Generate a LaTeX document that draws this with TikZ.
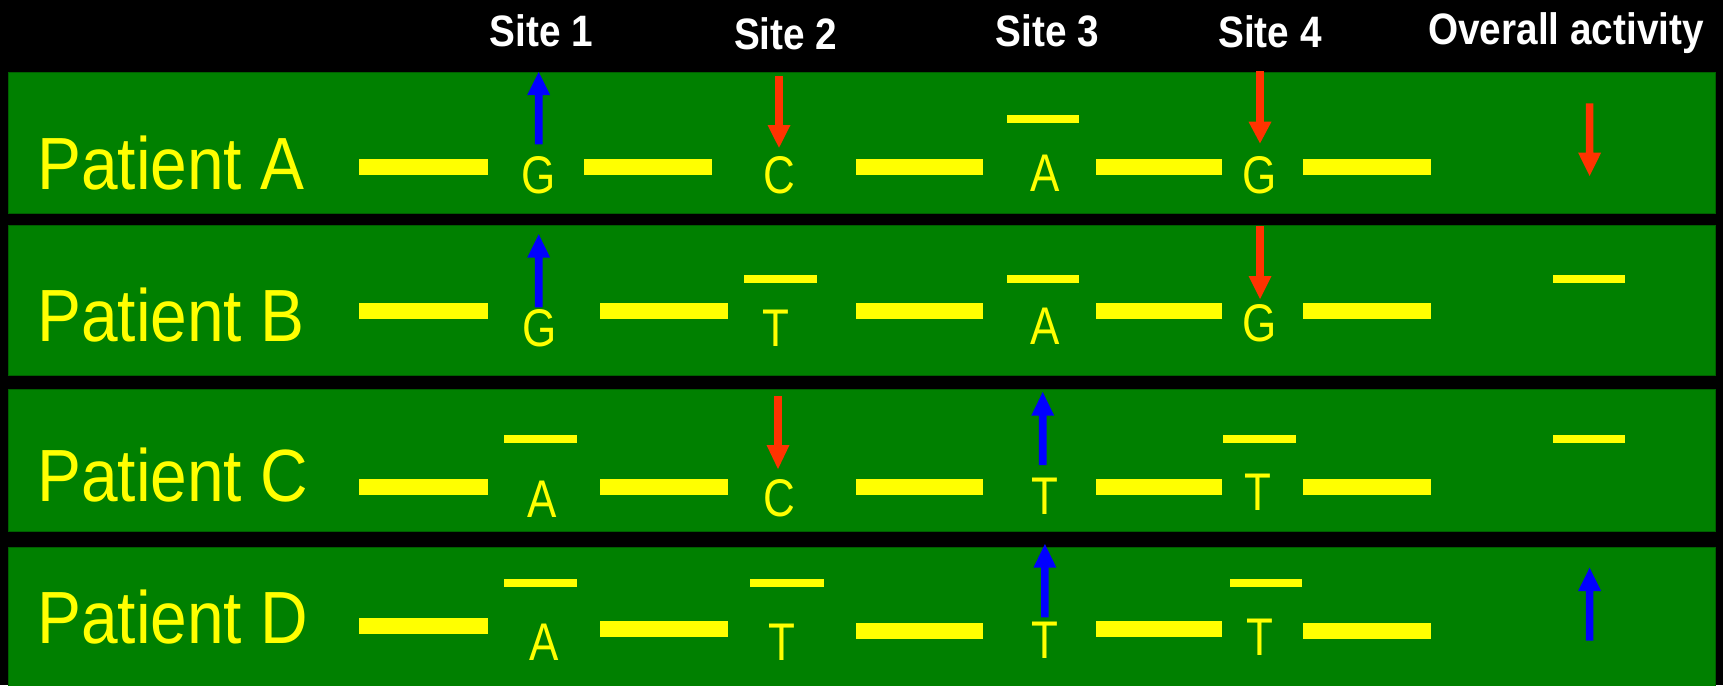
\documentclass[tikz,border=0pt]{standalone}
\usepackage{fontspec}
\setmainfont{Liberation Sans}
\newfontfamily\patientfont[FakeStretch=0.89]{Liberation Sans}
\newfontfamily\basefont[FakeStretch=0.83]{Liberation Sans}
\newfontfamily\headfont[FakeStretch=0.88]{Liberation Sans}
\usetikzlibrary{arrows.meta}

\definecolor{band}{RGB}{0,128,0}
\definecolor{bandedge}{RGB}{0,96,0}
\definecolor{dna}{RGB}{255,255,0}
\definecolor{upblue}{RGB}{0,0,255}
\definecolor{downred}{RGB}{255,51,0}

% vertical mutation arrow: colour, x, tail y, head-base y, tip y
\newcommand\mutarrow[5]{%
  \fill[#1] ({#2-3.8},#3) -- ({#2-3.8},#4) -- ({#2-11.5},#4) -- (#2,#5)
    -- ({#2+11.5},#4) -- ({#2+3.8},#4) -- ({#2+3.8},#3) -- cycle;}
% backbone segment: x from, x to, centre y (16 units thick)
\newcommand\seg[3]{\fill[dna] (#1,{#3-8}) rectangle (#2,{#3+8});}
% overbar above a base: x from, x to, top y
\newcommand\obar[3]{\fill[dna] (#1,#3) rectangle (#2,{#3+8.3});}

\begin{document}
\begin{tikzpicture}[x=1pt,y=-1pt,
  bandbox/.style={fill=band,draw=bandedge,line width=1pt},
  head/.style={anchor=base,text=white,inner sep=0pt,
    font=\headfont\bfseries\fontsize{44}{44}\selectfont},
  patient/.style={anchor=base west,text=dna,inner sep=0pt,
    font=\patientfont\fontsize{74}{74}\selectfont},
  base/.style={anchor=base,text=dna,inner sep=0pt,
    font=\basefont\fontsize{53}{53}\selectfont}]

\useasboundingbox (0,0) rectangle (1723,685);
\fill[black] (0,0) rectangle (1723,685);

% column headings
\node[head] (s1) at (541.4,46.7) {Site 1};
\node[head] (s2) at (785.8,50) {Site 2};
\node[head] (s3) at (1047.3,46.7) {Site 3};
\node[head] (s4) at (1270,48) {Site 4};
\node[head] (ov) at (1566,45) {Overall activity};

% patient bands
\draw[bandbox] (8,72) rectangle (1715.5,213.7);
\draw[bandbox] (8,225) rectangle (1715.5,375);
\draw[bandbox] (8,389.3) rectangle (1715.5,531.7);
\draw[bandbox] (8,547) rectangle (1715.5,686);

% ---- Patient A
\node[patient] (pa) at (37,189) {Patient A};
\seg{359.3}{488.2}{167.2}
\seg{584.2}{712}{167.2}
\seg{856}{983.4}{167.2}
\seg{1095.9}{1222}{167.2}
\seg{1303.2}{1430.5}{167.2}
\node[base] (a1) at (539,193) {G};
\node[base] (a2) at (779,193) {C};
\node[base] (a3) at (1045,191.7) {A};
\node[base] (a4) at (1260,193.5) {G};
\obar{1006.5}{1079.4}{115}
\mutarrow{upblue}{538.7}{144.3}{95}{72}
\mutarrow{downred}{779}{76}{125}{147.7}
\mutarrow{downred}{1260}{71}{121.7}{143.3}
\mutarrow{downred}{1589.6}{103.3}{152.7}{176}

% ---- Patient B
\node[patient] (pb) at (37,341.7) {Patient B};
\seg{359.3}{488.2}{311.3}
\seg{599.6}{728}{311.3}
\seg{856}{983.4}{311.3}
\seg{1095.9}{1222}{311.3}
\seg{1303.2}{1430.5}{311.3}
\node[base] (b1) at (540,346.5) {G};
\node[base] (b2) at (776,346.7) {T};
\node[base] (b3) at (1045,344) {A};
\node[base] (b4) at (1260,341.5) {G};
\obar{744.4}{817.3}{275}
\obar{1006.5}{1079.4}{275}
\obar{1552.8}{1625.2}{275}
\mutarrow{upblue}{538.7}{307.3}{257.7}{234.3}
\mutarrow{downred}{1260}{226}{276}{299}

% ---- Patient C
\node[patient] (pc) at (37,501.7) {Patient C};
\seg{359.3}{488.2}{487.3}
\seg{599.6}{728}{487.3}
\seg{856}{983.4}{487.3}
\seg{1095.9}{1222}{487.3}
\seg{1303.2}{1430.5}{487.3}
\node[base] (c1) at (542,517) {A};
\node[base] (c2) at (779,516.5) {C};
\node[base] (c3) at (1045,514) {T};
\node[base] (c4) at (1258,510.7) {T};
\obar{503.6}{577}{435}
\obar{1223}{1296}{435}
\obar{1552.8}{1625.2}{435}
\mutarrow{downred}{778}{396}{445}{469}
\mutarrow{upblue}{1042.7}{465}{415.7}{392}

% ---- Patient D
\node[patient] (pd) at (37,643.3) {Patient D};
\seg{359.3}{488.2}{626.3}
\seg{599.6}{728}{628.8}
\seg{856}{983.4}{631.3}
\seg{1095.9}{1222}{628.8}
\seg{1303.2}{1430.5}{631.3}
\node[base] (d1) at (544,660.7) {A};
\node[base] (d2) at (782,660.7) {T};
\node[base] (d3) at (1045,658.3) {T};
\node[base] (d4) at (1260,655.7) {T};
\obar{503.6}{577}{579}
\obar{750.4}{824}{579}
\obar{1229.7}{1302}{579}
\mutarrow{upblue}{1044.9}{617.3}{567.7}{544}
\mutarrow{upblue}{1589.6}{640.7}{591}{567.7}
\end{tikzpicture}
\end{document}
